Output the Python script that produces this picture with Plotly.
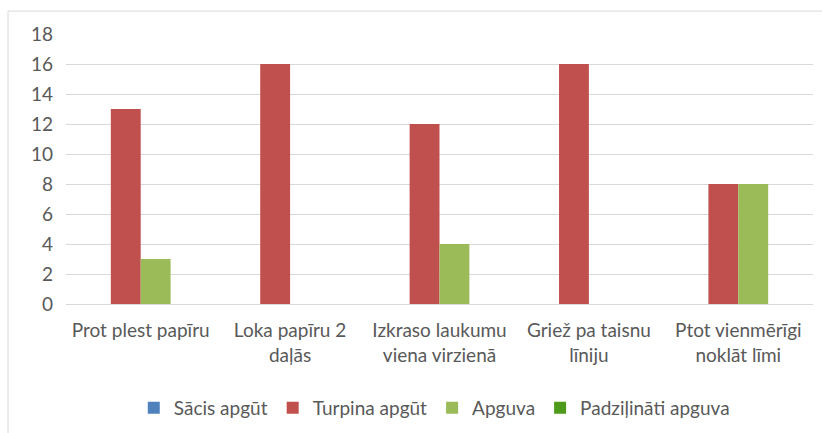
import plotly.graph_objects as go

categories = [
    "Prot plest papīru",
    "Loka papīru 2<br>daļās",
    "Izkraso laukumu<br>viena virzienā",
    "Griež pa taisnu<br>līniju",
    "Ptot vienmērīgi<br>noklāt līmi",
]
series_names = ["Sācis apgūt", "Turpina apgūt", "Apguva", "Padziļināti apguva"]
sacis = [0, 0, 0, 0, 0]
turpina = [13, 16, 12, 16, 8]
apguva = [3, 0, 4, 0, 8]
padzilinati = [0, 0, 0, 0, 0]
y_ticks = [0, 2, 4, 6, 8, 10, 12, 14, 16, 18]

colors = ["#4F81BD", "#C0504D", "#9BBB59", "#4E9A1A"]
values = [sacis, turpina, apguva, padzilinati]

fig = go.Figure()
for name, vals, col in zip(series_names, values, colors):
    fig.add_trace(go.Bar(
        x=categories,
        y=vals,
        name=name,
        marker=dict(color=col, line=dict(width=0)),
    ))

fig.update_layout(
    width=822,
    height=433,
    barmode="group",
    bargap=0.2,
    bargroupgap=0,
    paper_bgcolor="white",
    plot_bgcolor="white",
    font=dict(family="Lato, Open Sans, sans-serif", size=19, color="#595959"),
    margin=dict(l=66, r=9, t=34, b=129),
    showlegend=True,
    legend=dict(
        orientation="h",
        x=0.493, xanchor="center",
        yref="container",
        y=0.058, yanchor="middle",
        font=dict(size=19, color="#595959"),
        itemwidth=30,
        traceorder="normal",
    ),
    xaxis=dict(
        showgrid=False,
        showline=True,
        linecolor="#D9D9D9",
        linewidth=1,
        ticks="",
        ticklabelstandoff=9,
        automargin=False,
        tickfont=dict(size=19, color="#595959"),
    ),
    yaxis=dict(
        range=[0, 18],
        tickvals=y_ticks,
        showgrid=True,
        gridcolor="#D9D9D9",
        gridwidth=1,
        zeroline=False,
        showline=False,
        ticks="",
        ticklabelstandoff=12,
        automargin=False,
        tickfont=dict(size=19, color="#595959"),
    ),
    shapes=[dict(
        type="rect", xref="paper", yref="paper",
        x0=-0.0776, x1=1.03, y0=-0.6, y1=1.085,
        line=dict(color="#D9D9D9", width=1),
        fillcolor="rgba(0,0,0,0)",
        layer="below",
    )],
)

fig.write_html("out.html", config={"displayModeBar": False},
               post_script="document.body.style.margin='0';")
